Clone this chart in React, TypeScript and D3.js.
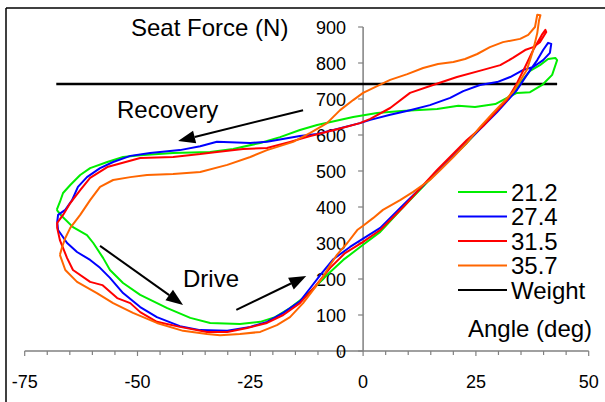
import React, { useEffect, useRef } from "react";
import * as d3 from "d3";

// angle (deg), seat force (N), one loop per stroke rate
const rate212: [number, number][] = [
  [-67.9, 392], [-66.8, 375], [-64.3, 344], [-61.2, 322], [-59.8, 300], [-57.6, 258], [-56.1, 225],
  [-53.2, 189], [-49.4, 156], [-43.4, 119], [-38.3, 92], [-33.9, 78], [-27.3, 75], [-22.8, 81],
  [-19.5, 94], [-16.2, 119], [-13.3, 147], [-10.6, 178], [-8.0, 211], [-4.4, 253], [0, 295],
  [3.8, 331], [8.9, 400], [16.4, 497], [23.0, 578], [29.7, 669], [32.6, 706], [34.8, 744],
  [37.0, 778], [39.2, 794], [41.0, 811], [42.6, 814], [43.0, 808], [41.9, 767], [39.7, 739],
  [37.0, 719], [34.1, 717], [31.9, 703], [29.3, 686], [24.8, 678], [21.1, 681], [16.4, 672],
  [8.5, 667], [3.1, 661], [-2.2, 650], [-10.2, 628], [-14.0, 614], [-18.4, 594], [-22.8, 578],
  [-28.8, 561], [-33.9, 553], [-42.1, 550], [-49.4, 544], [-53.2, 539], [-56.7, 525], [-60.5, 508],
  [-62.7, 489], [-64.9, 461], [-66.5, 439], [-67.2, 414], [-67.9, 392],
];

const rate274: [number, number][] = [
  [-67.8, 358], [-67.6, 336], [-65.6, 300], [-63.4, 275], [-60.5, 253], [-58.3, 231], [-56.1, 203],
  [-53.2, 161], [-49.4, 122], [-45.7, 94], [-40.6, 69], [-36.1, 58], [-30.1, 56], [-25.0, 67],
  [-21.3, 81], [-17.7, 106], [-14.0, 138], [-11.7, 175], [-9.5, 211], [-6.6, 255], [-2.9, 289],
  [0, 312], [3.8, 342], [8.9, 406], [16.4, 497], [23.0, 580], [29.7, 664], [34.1, 725],
  [36.3, 767], [38.6, 808], [39.9, 836], [41.0, 856], [41.7, 853], [41.4, 828], [39.9, 808],
  [37.7, 789], [35.5, 781], [32.6, 761], [29.7, 747], [25.9, 739], [22.2, 722], [19.3, 703],
  [14.8, 683], [10.4, 669], [6.0, 656], [1.6, 642], [-0.7, 633], [-6.6, 614], [-10.2, 603],
  [-14.0, 597], [-21.3, 581], [-25.0, 578], [-32.4, 581], [-36.1, 569], [-40.6, 558], [-47.2, 550],
  [-51.6, 542], [-55.4, 525], [-58.3, 508], [-61.2, 483], [-63.2, 456], [-64.5, 419], [-66.0, 392],
  [-67.6, 378], [-67.8, 358],
];

const rate315: [number, number][] = [
  [-67.8, 342], [-67.2, 308], [-65.6, 258], [-64.3, 225], [-60.5, 192], [-57.8, 183], [-54.5, 147],
  [-51.6, 133], [-49.4, 108], [-45.7, 81], [-40.6, 67], [-34.6, 53], [-30.1, 53], [-25.7, 64],
  [-21.3, 78], [-17.7, 100], [-14.0, 133], [-10.6, 180], [-7.3, 231], [-4.0, 272], [0, 303],
  [3.8, 336], [8.9, 400], [16.4, 503], [23.0, 586], [26.6, 625], [29.7, 668], [31.9, 697],
  [34.1, 744], [35.9, 789], [37.7, 836], [39.6, 878], [40.4, 892], [40.6, 886], [39.2, 858],
  [37.7, 844], [35.9, 836], [33.2, 814], [30.4, 794], [26.6, 781], [20.8, 761], [15.5, 739],
  [10.4, 717], [6.0, 675], [1.6, 645], [-0.7, 633], [-5.1, 618], [-11.7, 597], [-16.2, 581],
  [-21.3, 564], [-26.6, 561], [-32.4, 553], [-36.1, 547], [-42.1, 539], [-49.4, 536], [-56.7, 511],
  [-60.5, 481], [-62.7, 447], [-64.9, 411], [-66.5, 378], [-67.8, 356], [-67.8, 342],
];

const rate357: [number, number][] = [
  [-67.2, 267], [-66.0, 225], [-63.4, 192], [-59.0, 161], [-55.4, 133], [-51.0, 106], [-45.7, 78],
  [-39.9, 56], [-34.6, 47], [-31.7, 44], [-27.3, 47], [-22.8, 53], [-19.1, 72], [-16.2, 94],
  [-13.3, 133], [-11.1, 169], [-8.9, 206], [-7.3, 239], [-5.8, 267], [-3.5, 300], [-1.3, 336],
  [0, 348], [2.2, 369], [4.4, 392], [8.2, 419], [11.1, 442], [14.8, 475], [17.1, 503], [20.0, 539],
  [23.0, 578], [25.9, 622], [28.8, 661], [33.2, 719], [36.3, 781], [37.7, 836], [38.6, 883],
  [39.0, 919], [39.3, 933], [38.6, 934], [38.1, 900], [36.6, 878], [34.8, 867], [31.0, 858],
  [28.1, 844], [25.3, 825], [22.6, 811], [20.0, 803], [16.6, 797], [13.3, 786], [9.8, 769],
  [6.0, 753], [3.1, 736], [0, 717], [-2.2, 697], [-5.1, 669], [-8.0, 633], [-11.7, 606],
  [-15.5, 581], [-21.3, 558], [-25.0, 539], [-30.1, 517], [-36.1, 497], [-42.1, 492], [-47.9, 489],
  [-51.6, 483], [-55.4, 475], [-58.3, 456], [-60.5, 419], [-62.7, 378], [-64.9, 342], [-66.0, 314],
  [-66.7, 289], [-67.2, 267],
];

const seriesNames = ["21.2", "27.4", "31.5", "35.7"];
const seriesColors = ["#00ee00", "#0000ff", "#ff0000", "#ff6600"];
const weight = 742;
const weightRange = [-68, 43];
const xTicks = [-75, -50, -25, 0, 25, 50];
const yTicks = [0, 100, 200, 300, 400, 500, 600, 700, 800, 900];

const font = "Liberation Sans, Arial, sans-serif";

export default function App() {
  const ref = useRef<SVGSVGElement>(null);

  useEffect(() => {
    const width = 605;
    const height = 402;
    const svg = d3.select(ref.current).attr("width", width).attr("height", height);
    svg.selectAll("*").remove();

    const x = d3.scaleLinear().domain([-75, 50]).range([24.7, 588.7]);
    const y = d3.scaleLinear().domain([0, 900]).range([351, 27]);

    // frame (top + left only are visible)
    svg.append("line").attr("x1", 6).attr("y1", 8).attr("x2", width).attr("y2", 8)
      .attr("stroke", "#000").attr("stroke-width", 1.5);
    svg.append("line").attr("x1", 6).attr("y1", 8).attr("x2", 6).attr("y2", height)
      .attr("stroke", "#000").attr("stroke-width", 1.5);

    const axisColor = "#808080";

    // x axis
    svg.append("line").attr("x1", x(-75)).attr("x2", x(50)).attr("y1", y(0)).attr("y2", y(0))
      .attr("stroke", axisColor).attr("stroke-width", 1.5);
    svg.selectAll(".xtick").data(d3.range(-75, 51, 5)).enter().append("line")
      .attr("x1", d => x(d)).attr("x2", d => x(d))
      .attr("y1", y(0)).attr("y2", d => y(0) + (d % 25 === 0 ? 5 : 4))
      .attr("stroke", axisColor).attr("stroke-width", 1.2);
    svg.selectAll(".xlab").data(xTicks).enter().append("text")
      .attr("x", d => x(d)).attr("y", 388)
      .attr("text-anchor", "middle")
      .style("font-family", font).style("font-size", "18px")
      .text(d => d);

    // y axis at angle 0
    svg.append("line").attr("x1", x(0)).attr("x2", x(0)).attr("y1", y(0)).attr("y2", y(900))
      .attr("stroke", axisColor).attr("stroke-width", 1.5);
    svg.selectAll(".ytick").data(yTicks).enter().append("line")
      .attr("x1", x(0) - 5).attr("x2", x(0))
      .attr("y1", d => y(d)).attr("y2", d => y(d))
      .attr("stroke", axisColor).attr("stroke-width", 1.2);
    svg.selectAll(".ylab").data(yTicks).enter().append("text")
      .attr("x", x(0) - 17).attr("y", d => y(d) + 6.5)
      .attr("text-anchor", "end")
      .style("font-family", font).style("font-size", "18px")
      .text(d => d);

    // body weight
    svg.append("line")
      .attr("x1", x(weightRange[0])).attr("x2", x(weightRange[1]))
      .attr("y1", y(weight)).attr("y2", y(weight))
      .attr("stroke", "#000").attr("stroke-width", 2.5);

    // loops
    const line = d3.line<[number, number]>().x(d => x(d[0])).y(d => y(d[1]));
    [rate212, rate274, rate315, rate357].forEach((s, i) => {
      svg.append("path").attr("d", line(s))
        .attr("fill", "none").attr("stroke", seriesColors[i])
        .attr("stroke-width", 2).attr("stroke-linejoin", "round");
    });

    // arrows
    const arrow = (x0: number, y0: number, x1: number, y1: number) => {
      const ax = x(x0), ay = y(y0), bx = x(x1), by = y(y1);
      const len = Math.hypot(bx - ax, by - ay);
      const ux = (bx - ax) / len, uy = (by - ay) / len;
      const hl = 17, hw = 6.5;
      const cx = bx - ux * hl, cy = by - uy * hl;
      svg.append("line").attr("x1", ax).attr("y1", ay).attr("x2", cx).attr("y2", cy)
        .attr("stroke", "#000").attr("stroke-width", 2);
      svg.append("polygon")
        .attr("points", `${bx},${by} ${cx - uy * hw},${cy + ux * hw} ${cx + uy * hw},${cy - ux * hw}`)
        .attr("fill", "#000");
    };
    arrow(-13.3, 669, -41.0, 583);
    arrow(-58.3, 292, -39.9, 128);
    arrow(-28.1, 114, -12.6, 208);

    const label = (tx: number, ty: number, s: string) =>
      svg.append("text").attr("x", tx).attr("y", ty)
        .style("font-family", font).style("font-size", "24px").text(s);
    label(131, 36, "Seat Force (N)");
    label(117, 118, "Recovery");
    label(183, 287, "Drive");
    label(468, 337, "Angle (deg)");

    // legend
    const names = [...seriesNames, "Weight"];
    const colors = [...seriesColors, "#000"];
    names.forEach((n, i) => {
      const ly = 192 + i * 24.5;
      svg.append("line").attr("x1", 458).attr("x2", 507).attr("y1", ly).attr("y2", ly)
        .attr("stroke", colors[i]).attr("stroke-width", 2);
      label(511, ly + 8.5, n);
    });
  }, []);

  return (
    <svg ref={ref} style={{ position: "absolute", left: 0, top: 0, background: "#fff" }} />
  );
}
